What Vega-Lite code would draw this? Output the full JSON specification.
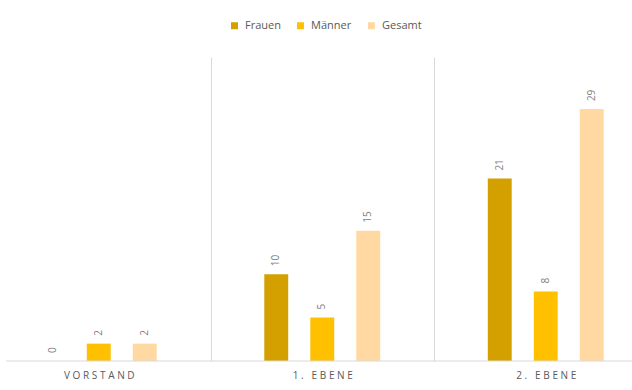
{
  "$schema": "https://vega.github.io/schema/vega-lite/v6.json",
  "width": 626,
  "height": 304,
  "autosize": {"type": "none"},
  "padding": {"left": 6, "top": 57, "right": 0, "bottom": 29},
  "background": "white",
  "config": {"view": {"stroke": null}, "font": "Open Sans"},
  "layer": [
    {
      "data": {"values": [
        {"Ebene": "VORSTAND", "Geschlecht": "Frauen", "Anzahl": 0},
        {"Ebene": "VORSTAND", "Geschlecht": "Männer", "Anzahl": 2},
        {"Ebene": "VORSTAND", "Geschlecht": "Gesamt", "Anzahl": 2},
        {"Ebene": "1. EBENE", "Geschlecht": "Frauen", "Anzahl": 10},
        {"Ebene": "1. EBENE", "Geschlecht": "Männer", "Anzahl": 5},
        {"Ebene": "1. EBENE", "Geschlecht": "Gesamt", "Anzahl": 15},
        {"Ebene": "2. EBENE", "Geschlecht": "Frauen", "Anzahl": 21},
        {"Ebene": "2. EBENE", "Geschlecht": "Männer", "Anzahl": 8},
        {"Ebene": "2. EBENE", "Geschlecht": "Gesamt", "Anzahl": 29}
      ]},
      "encoding": {
        "x": {
          "field": "Ebene", "type": "nominal",
          "sort": ["VORSTAND", "1. EBENE", "2. EBENE"],
          "scale": {"range": [-19, 651.5], "paddingInner": 0, "paddingOuter": 0},
          "axis": {
            "title": null, "domain": false, "ticks": false, "grid": true,
            "tickBand": "extent", "gridColor": "#d9d9d9", "labelAngle": 0,
            "labelColor": "#595959", "labelFontSize": 10, "labelPadding": 9,
            "labelExpr": "join(split(datum.label, ''), '\u2009\u200a')"
          }
        },
        "xOffset": {
          "field": "Geschlecht", "type": "nominal",
          "sort": ["Frauen", "Männer", "Gesamt"],
          "scale": {"range": [42.75, 180.75], "paddingInner": 0.48, "paddingOuter": 0.24}
        },
        "y": {"field": "Anzahl", "type": "quantitative", "scale": {"domain": [0, 35]}, "axis": null}
      },
      "layer": [
        {
          "mark": {"type": "bar"},
          "encoding": {
            "color": {
              "field": "Geschlecht", "type": "nominal",
              "scale": {"domain": ["Frauen", "Männer", "Gesamt"], "range": ["#D4A000", "#FFC000", "#FFD9A1"]},
              "legend": {
                "title": null, "orient": "none", "direction": "horizontal",
                "legendX": 223, "legendY": -37, "symbolType": "square", "symbolSize": 49,
                "symbolStrokeWidth": 0, "labelFontSize": 11, "labelColor": "#595959",
                "columnPadding": 14, "labelOffset": 5, "padding": 0
              }
            }
          }
        },
        {
          "mark": {"type": "text", "angle": 270, "align": "left", "baseline": "middle", "dx": 8, "fontSize": 10, "color": "#7f7f7f"},
          "encoding": {"text": {"field": "Anzahl", "type": "quantitative"}}
        }
      ]
    },
    {
      "data": {"values": [{}]},
      "mark": {"type": "rule", "color": "#d9d9d9", "strokeWidth": 1},
      "encoding": {"y": {"datum": 0, "type": "quantitative"}}
    }
  ]
}
